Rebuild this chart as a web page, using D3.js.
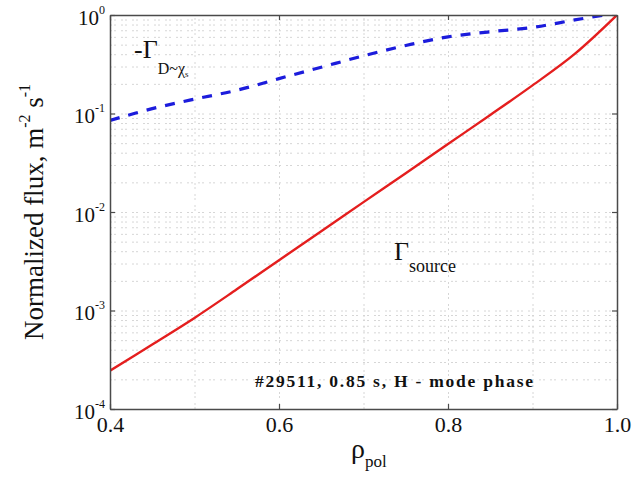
<!DOCTYPE html>
<html>
<head>
<meta charset="utf-8">
<script src="https://cdn.jsdelivr.net/npm/d3@7"></script>
<style>
  body { margin: 0; background: #fff; }
  text { font-family: "Liberation Serif", "DejaVu Serif", serif; fill: #111; }
</style>
</head>
<body>
<svg id="chart" width="640" height="477"></svg>
<script>
// Normalized radial fluxes versus poloidal flux coordinate
const rho = [0.40, 0.45, 0.50, 0.55, 0.60, 0.65, 0.70, 0.75, 0.80, 0.85, 0.90, 0.95, 1.00];
const gammaSource = [2.45e-4, 4.52e-4, 8.41e-4, 1.64e-3, 3.24e-3, 6.38e-3, 0.0126, 0.0248, 0.0490, 0.0966, 0.193, 0.403, 1.0];
const gammaDiff   = [0.0851, 0.112, 0.140, 0.172, 0.226, 0.295, 0.385, 0.490, 0.600, 0.676, 0.748, 0.891, 1.05];

const xTicks = [0.4, 0.6, 0.8, 1.0];
const xTickLabels = ["0.4", "0.6", "0.8", "1.0"];
const xGrid = [0.5, 0.6, 0.7, 0.8, 0.9];
const yTicks = [1e-4, 1e-3, 1e-2, 1e-1, 1];
const yTickExponents = ["-4", "-3", "-2", "-1", "0"];

const svg = d3.select("#chart");
const mLeft = 110, mRight = 617, mTop = 15, mBottom = 409;

const x = d3.scaleLinear().domain([0.4, 1.0]).range([mLeft, mRight]);
const y = d3.scaleLog().domain([1e-4, 1]).range([mBottom, mTop]);

// minor log grid values between decades
const yGrid = [];
for (let e = -4; e < 0; e++) {
  for (let k = 1; k <= 9; k++) {
    const v = k * Math.pow(10, e);
    if (v > 1e-4) yGrid.push(v);
  }
}

const gridStyle = g => {
  g.select(".domain").remove();
  g.selectAll(".tick line")
    .attr("stroke", "#d6d6d6")
    .attr("stroke-width", 1)
    .attr("stroke-dasharray", "2,2,2,5");
};

svg.append("g")
  .attr("transform", `translate(0,${mBottom})`)
  .call(d3.axisBottom(x).tickValues(xGrid).tickSize(-(mBottom - mTop)).tickFormat(""))
  .call(gridStyle);

svg.append("g")
  .attr("transform", `translate(${mLeft},0)`)
  .call(d3.axisLeft(y).tickValues(yGrid).tickSize(-(mRight - mLeft)).tickFormat(""))
  .call(gridStyle);

// clip lines to the plotting box
svg.append("clipPath").attr("id", "plotClip")
  .append("rect").attr("x", mLeft).attr("y", mTop)
  .attr("width", mRight - mLeft).attr("height", mBottom - mTop);

const lineOf = vals => d3.line()
  .x((d, i) => x(rho[i]))
  .y(d => y(d))
  .curve(d3.curveCatmullRom.alpha(0.5))(vals);

svg.append("path")
  .attr("clip-path", "url(#plotClip)")
  .attr("d", lineOf(gammaSource))
  .attr("fill", "none")
  .attr("stroke", "#e41e1e")
  .attr("stroke-width", 2.4);

svg.append("path")
  .attr("clip-path", "url(#plotClip)")
  .attr("d", lineOf(gammaDiff))
  .attr("fill", "none")
  .attr("stroke", "#1c1cdc")
  .attr("stroke-width", 3.2)
  .attr("stroke-dasharray", "10,9");

// axes: ticks pointing inward
const axisStyle = g => {
  g.select(".domain").attr("stroke", "#4a4a4a").attr("stroke-width", 1.5);
  g.selectAll(".tick line").attr("stroke", "#4a4a4a").attr("stroke-width", 1.2);
};

const xAxis = svg.append("g")
  .attr("transform", `translate(0,${mBottom})`)
  .call(d3.axisBottom(x).tickValues(xTicks).tickSizeInner(-5).tickSizeOuter(0)
    .tickFormat((d, i) => xTickLabels[i]))
  .call(axisStyle);
xAxis.selectAll(".tick text")
  .attr("y", 23).attr("dy", 0)
  .attr("font-size", 22)
  .attr("font-family", "Liberation Serif, serif")
  .attr("fill", "#111");

svg.append("g")
  .attr("transform", `translate(0,${mTop})`)
  .call(d3.axisTop(x).tickValues(xTicks).tickSizeInner(-5).tickSizeOuter(0).tickFormat(""))
  .call(axisStyle);

const yAxis = svg.append("g")
  .attr("transform", `translate(${mLeft},0)`)
  .call(d3.axisLeft(y).tickValues(yTicks).tickSizeInner(-5).tickSizeOuter(0).tickFormat(""))
  .call(axisStyle);
yAxis.selectAll(".tick").each(function (d, i) {
  const t = d3.select(this).append("text")
    .attr("x", -5).attr("y", 9)
    .attr("text-anchor", "end")
    .attr("font-size", 21)
    .attr("font-family", "Liberation Serif, serif")
    .attr("fill", "#111");
  t.append("tspan").text("10");
  t.append("tspan").attr("dy", -11).attr("font-size", 12).text(yTickExponents[i]);
});

svg.append("g")
  .attr("transform", `translate(${mRight},0)`)
  .call(d3.axisRight(y).tickValues(yTicks).tickSizeInner(-5).tickSizeOuter(0).tickFormat(""))
  .call(axisStyle);

// axis titles
const yTitle = svg.append("text")
  .attr("transform", `translate(43,${(mTop + mBottom) / 2}) rotate(-90)`)
  .attr("text-anchor", "middle")
  .attr("font-size", 27);
yTitle.append("tspan").text("Normalized flux, m");
yTitle.append("tspan").attr("dy", -13).attr("font-size", 16).text("-2");
yTitle.append("tspan").attr("dy", 13).text(" s");
yTitle.append("tspan").attr("dy", -13).attr("font-size", 16).text("-1");

const xTitle = svg.append("text")
  .attr("x", 351).attr("y", 458)
  .attr("font-size", 28);
xTitle.append("tspan").text("ρ");
xTitle.append("tspan").attr("dy", 9).attr("font-size", 17).text("pol");

// curve labels
const lblDiff = svg.append("text").attr("x", 134).attr("y", 58).attr("font-size", 26);
lblDiff.append("tspan").text("-Γ");
lblDiff.append("tspan").attr("dy", 16).attr("font-size", 16).text("D~χ");
lblDiff.append("tspan").attr("dy", 3).attr("font-size", 9).text("s");

const lblSrc = svg.append("text").attr("x", 394).attr("y", 260).attr("font-size", 26);
lblSrc.append("tspan").text("Γ");
lblSrc.append("tspan").attr("dy", 12).attr("font-size", 18).text("source");

svg.append("text")
  .attr("x", 255).attr("y", 387)
  .attr("font-size", 17.5)
  .attr("font-weight", "bold")
  .attr("textLength", 278)
  .attr("lengthAdjust", "spacing")
  .text("#29511, 0.85 s, H - mode phase");
</script>
</body>
</html>
